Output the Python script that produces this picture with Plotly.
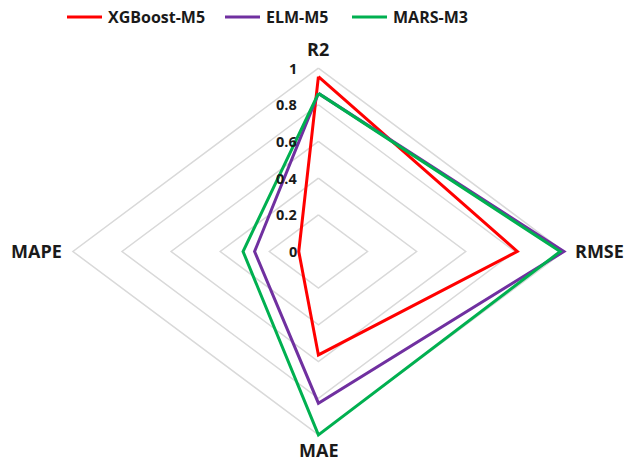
import plotly.graph_objects as go

# Metrics around the radar, clockwise from the top
metrics = ["R2", "RMSE", "MAE", "MAPE"]
models = ["XGBoost-M5", "ELM-M5", "MARS-M3"]
colors = ["#ff0000", "#7030a0", "#00b050"]

# Normalised scores per model, in the order of `metrics`
xgboost_m5 = [0.953, 0.81, 0.564, 0.08]
elm_m5 = [0.862, 1.0, 0.827, 0.26]
mars_m3 = [0.862, 0.985, 1.0, 0.307]
series = [xgboost_m5, elm_m5, mars_m3]

# Radial grid levels and their labels
levels = [0, 0.2, 0.4, 0.6, 0.8, 1]
level_labels = ["0", "0.2", "0.4", "0.6", "0.8", "1"]

# Each metric spoke lies along one axis direction: up, right, down, left
spoke_dx = [0, 1, 0, -1]
spoke_dy = [1, 0, -1, 0]


def spoke_points(values):
    xs = [v * dx for v, dx in zip(values, spoke_dx)]
    ys = [v * dy for v, dy in zip(values, spoke_dy)]
    return xs + xs[:1], ys + ys[:1]


W, H = 627, 463
FONT = "Open Sans"
TEXT = "#1a1a1a"

fig = go.Figure()

# Diamond grid rings
for lv in levels[1:]:
    gx, gy = spoke_points([lv] * 4)
    fig.add_trace(go.Scatter(
        x=gx, y=gy, mode="lines", showlegend=False, hoverinfo="skip",
        line=dict(color="#d9d9d9", width=1.5),
    ))

# Model polygons
for name, vals, col in zip(models, series, colors):
    px, py = spoke_points(vals)
    fig.add_trace(go.Scatter(
        x=px, y=py, mode="lines", name=name, showlegend=False,
        line=dict(color=col, width=3),
    ))

annotations = []
shapes = []

# Legend row across the top: swatch line followed by the model name
legend_left_px = [67, 225, 352]
legend_y = 1 - 17 / H
swatch_px = 35
for name, col, left in zip(models, colors, legend_left_px):
    shapes.append(dict(
        type="line", xref="paper", yref="paper",
        x0=left / W, x1=(left + swatch_px) / W, y0=legend_y, y1=legend_y,
        line=dict(color=col, width=3),
    ))
    annotations.append(dict(
        xref="paper", yref="paper", x=(left + swatch_px + 4) / W, y=legend_y,
        text=f"<b>{name}</b>", showarrow=False,
        xanchor="left", yanchor="middle",
        font=dict(family=FONT, size=16, color=TEXT),
    ))

# Level labels along the R2 spoke
for lv, lab in zip(levels, level_labels):
    annotations.append(dict(
        x=0, y=lv, text=f"<b>{lab}</b>", showarrow=False,
        xanchor="right", yanchor="middle", xshift=-19,
        font=dict(family=FONT, size=14.5, color=TEXT),
    ))

# Metric names at the spoke ends
label_pos = [
    dict(xanchor="center", yanchor="middle", xshift=0, yshift=19),
    dict(xanchor="left", yanchor="middle", xshift=9, yshift=0),
    dict(xanchor="center", yanchor="middle", xshift=0, yshift=-15),
    dict(xanchor="right", yanchor="middle", xshift=-9, yshift=0),
]
for m, dx, dy, pos in zip(metrics, spoke_dx, spoke_dy, label_pos):
    annotations.append(dict(
        x=dx, y=dy, text=f"<b>{m}</b>", showarrow=False,
        font=dict(family=FONT, size=18, color=TEXT), **pos,
    ))

fig.update_layout(
    width=W, height=H,
    margin=dict(l=0, r=0, t=0, b=0),
    paper_bgcolor="white", plot_bgcolor="white",
    xaxis=dict(range=[-1.297, 1.257], visible=False, fixedrange=True),
    yaxis=dict(range=[-1.153, 1.371], visible=False, fixedrange=True),
    annotations=annotations,
    shapes=shapes,
    showlegend=False,
)

fig.write_html("out.html")
